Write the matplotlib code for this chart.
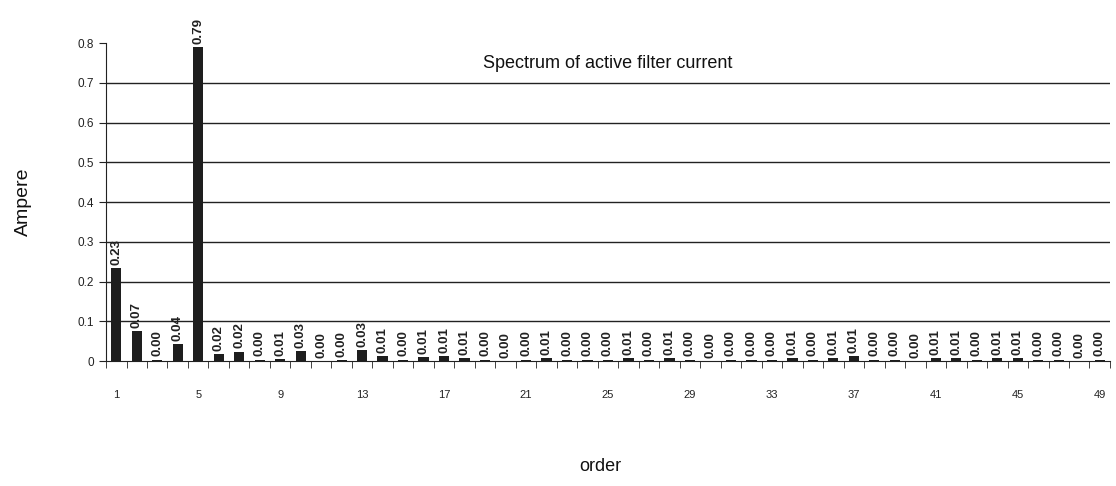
import numpy as np
import matplotlib
matplotlib.use('Agg')
import matplotlib.pyplot as plt

plt.rcParams['font.family'] = ['Liberation Sans', 'DejaVu Sans']

# Harmonic order 1..49 and current amplitude (A)
orden = list(range(1, 50))
amperios = [0.234, 0.075, 0.004, 0.042, 0.79, 0.018, 0.024, 0.004, 0.006, 0.026,
            0.001, 0.003, 0.027, 0.012, 0.004, 0.011, 0.012, 0.008, 0.004, 0.0,
            0.004, 0.007, 0.004, 0.004, 0.004, 0.007, 0.004, 0.008, 0.004, 0.0,
            0.004, 0.004, 0.004, 0.007, 0.004, 0.007, 0.012, 0.004, 0.004, 0.0,
            0.008, 0.007, 0.004, 0.007, 0.007, 0.004, 0.004, 0.001, 0.004]
etiquetas_x = [1, 5, 9, 13, 17, 21, 25, 29, 33, 37, 41, 45, 49]

fig = plt.figure(figsize=(11.16, 4.86), dpi=100)
ax = fig.add_axes([0.095, 0.257, 0.8996, 0.6545])

ax.bar(orden, amperios, width=0.5, color='#1e1e1e', zorder=3)

# valores encima de cada barra
for x, v in zip(orden, amperios):
    ax.text(x, v + 0.008, f"{v:.2f}", rotation=90, ha='center', va='bottom',
            fontsize=9.5, fontweight='bold', color='#222222', zorder=4)

ax.set_xlim(0.5, 49.5)
ax.set_ylim(0, 0.8)
ax.set_yticks(np.arange(0, 0.81, 0.1))
ax.set_yticklabels(['0', '0.1', '0.2', '0.3', '0.4', '0.5', '0.6', '0.7', '0.8'])
for g in np.arange(0.1, 0.75, 0.1):
    ax.axhline(g, color='#222222', lw=1, zorder=1)

ax.set_xticks(etiquetas_x)
ax.set_xticklabels([str(e) for e in etiquetas_x])
ax.set_xticks(np.arange(0.5, 50, 1), minor=True)
ax.tick_params(axis='x', which='major', length=0, pad=21, labelsize=8, colors='#222222')
ax.tick_params(axis='x', which='minor', length=5, direction='out', color='#222222')
ax.tick_params(axis='y', length=5, labelsize=8.5, colors='#222222')

for lado in ['top', 'right']:
    ax.spines[lado].set_visible(False)
ax.spines['left'].set_color('#222222')
ax.spines['bottom'].set_color('#222222')

ax.text(0.5, 0.935, 'Spectrum of active filter current', transform=ax.transAxes,
        ha='center', va='center', fontsize=13, color='#111111')
ax.set_ylabel('Ampere', fontsize=14, color='#111111', labelpad=33)
fig.text(0.538, 0.04, 'order', ha='center', va='center', fontsize=13, color='#111111')

fig.savefig('out.png', dpi=100)
